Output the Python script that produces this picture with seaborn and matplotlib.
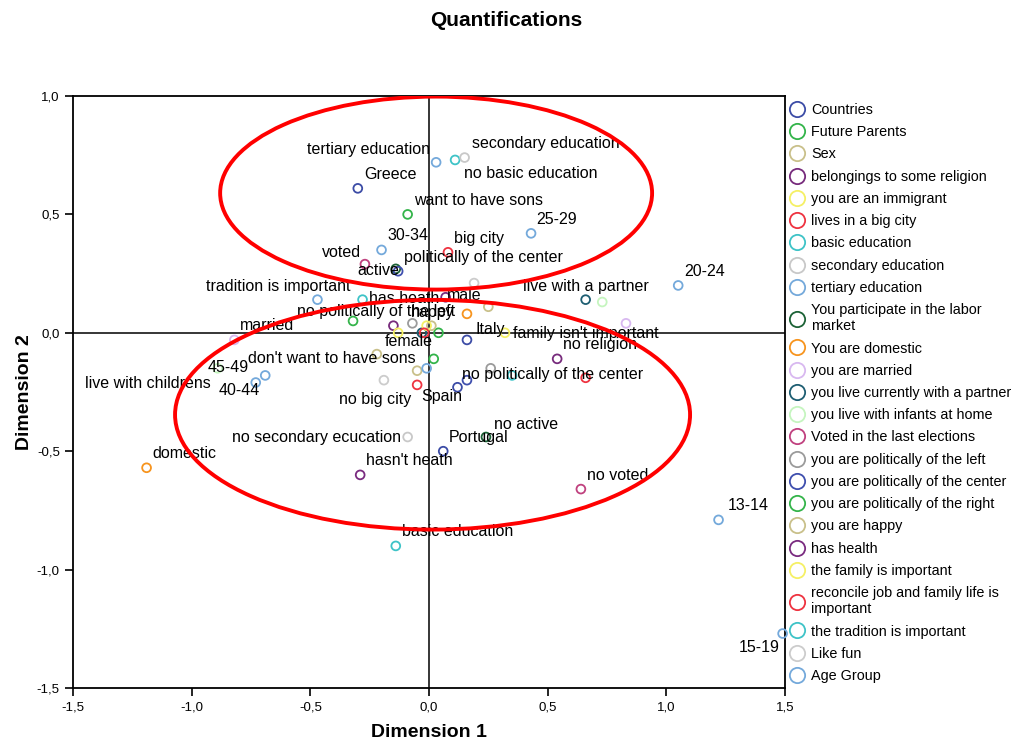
import matplotlib
matplotlib.use('Agg')
import matplotlib.pyplot as plt
from matplotlib.lines import Line2D
from matplotlib.patches import Ellipse
from matplotlib.ticker import FuncFormatter
import pandas as pd
import seaborn as sns

# legend groups (variables) and their colours
groups = ['Countries', 'Future Parents', 'Sex', 'belongings to some religion',
          'you are an immigrant', 'lives in a big city', 'basic education',
          'secondary education', 'tertiary education',
          'You participate in the labor market', 'You are domestic',
          'you are married', 'you live currently with a partner',
          'you live with infants at home', 'Voted in the last elections',
          'you are politically of the left', 'you are politically of the center',
          'you are politically of the right', 'you are happy', 'has health',
          'the family is important',
          'reconcile job and family life is important',
          'the tradition is important', 'Like fun', 'Age Group']
group_colors = ['#3C4CA6', '#33B44A', '#C9C08A', '#772B7C', '#F5F065', '#EE3340',
                '#3EC3C7', '#C8C8C8', '#74A9DB', '#1C6236', '#F7941E', '#D8B8F0',
                '#1E5E72', '#C5F5BF', '#C0417F', '#9B9B9B', '#3F4FAE', '#34B44A',
                '#C9C08A', '#7A2B80', '#F5F065', '#EE3340', '#3EC3C7', '#CCCCCC',
                '#74A9DB']

# category quantifications (one entry per category point)
point_group = (['Countries'] * 4 + ['Future Parents'] * 2 + ['Sex'] * 2
               + ['belongings to some religion'] * 2 + ['you are an immigrant']
               + ['lives in a big city'] * 2 + ['basic education'] * 2
               + ['secondary education'] * 2 + ['tertiary education'] * 2
               + ['You participate in the labor market'] * 2 + ['You are domestic'] * 2
               + ['you are married'] * 2 + ['you live currently with a partner'] * 2
               + ['you live with infants at home'] * 2 + ['Voted in the last elections'] * 2
               + ['you are politically of the left'] * 2
               + ['you are politically of the center'] * 2
               + ['you are politically of the right'] * 2 + ['you are happy'] * 2
               + ['has health'] * 2 + ['the family is important'] * 2
               + ['reconcile job and family life is important'] * 2
               + ['the tradition is important'] * 2 + ['Like fun'] * 2
               + ['Age Group'] * 8)
dim1 = [-0.30, 0.16, 0.12, 0.06,
        -0.09, 0.02,
        0.25, -0.05,
        -0.15, 0.54,
        -0.13,
        0.08, -0.05,
        0.11, -0.14,
        0.15, -0.09,
        0.03, -0.01,
        -0.14, 0.24,
        -1.19, 0.16,
        -0.82, 0.83,
        0.66, -0.03,
        0.73, -0.89,
        -0.27, 0.64,
        -0.07, 0.26,
        -0.13, 0.16,
        -0.32, 0.04,
        0.01, -0.22,
        0.07, -0.29,
        -0.01, 0.32,
        -0.02, 0.66,
        -0.28, 0.35,
        0.19, -0.19,
        1.22, 1.49, 1.05, 0.43, -0.20, -0.47, -0.73, -0.69]
dim2 = [0.61, -0.03, -0.23, -0.50,
        0.50, -0.11,
        0.11, -0.16,
        0.03, -0.11,
        0.00,
        0.34, -0.22,
        0.73, -0.90,
        0.74, -0.44,
        0.72, -0.15,
        0.27, -0.44,
        -0.57, 0.08,
        -0.03, 0.04,
        0.14, 0.00,
        0.13, -0.15,
        0.29, -0.66,
        0.04, -0.15,
        0.26, -0.20,
        0.05, 0.00,
        0.03, -0.09,
        0.15, -0.60,
        0.03, 0.00,
        0.00, -0.19,
        0.14, -0.18,
        0.21, -0.20,
        -0.79, -1.27, 0.20, 0.42, 0.35, 0.14, -0.21, -0.18]
point_label = ['Greece', 'Italy', 'Spain', 'Portugal',
               'want to have sons', "don't want to have sons",
               'male', 'female',
               '', 'no religion',
               '',
               'big city', 'no big city',
               'no basic education', 'basic education',
               'secondary education', 'no secondary ecucation',
               'tertiary education', '',
               'active', 'no active',
               'domestic', '',
               'married', '',
               'live with a partner', '',
               '', 'live with childrens',
               'voted', 'no voted',
               'no politically of the left', '',
               'politically of the center', 'no politically of the center',
               '', '',
               'happy', '',
               'has heath', "hasn't heath",
               '', "family isn't important",
               '', '',
               'tradition is important', '',
               '', '',
               '13-14', '15-19', '20-24', '25-29', '30-34', '', '40-44', '45-49']

# label placement (pixels from the point, alignment); default is up-right
label_offsets = {
    'tertiary education': (-6, 13, 'right'), 'secondary education': (7, 14, 'left'),
    'no basic education': (9, -14, 'left'), '25-29': (5, 14, 'left'),
    'voted': (-4, 12, 'right'), 'active': (3, -2, 'right'),
    'tradition is important': (-12, 13, 'right'), 'live with a partner': (-63, 13, 'left'),
    'has heath': (-6, -1, 'right'), 'male': (-41, 11, 'left'),
    'no politically of the left': (43, 12, 'right'), 'happy': (-20, 13, 'left'),
    'Italy': (9, 10, 'left'), "family isn't important": (8, -1, 'left'),
    'female': (-32, 29, 'left'), "don't want to have sons": (-18, 0, 'right'),
    '45-49': (-16, 8, 'right'), '40-44': (4, -8, 'right'),
    'no politically of the center': (-5, 6, 'left'),
    'live with childrens': (-7, -15, 'right'), 'no big city': (-6, -15, 'right'),
    'Spain': (5, -9, 'right'), 'no active': (8, 12, 'left'),
    'no secondary ecucation': (-7, -1, 'right'),
    '13-14': (9, 14, 'left'), '15-19': (-3, -14, 'right'),
}
legend_wrap = {'You participate in the labor market': 'You participate in the labor\nmarket',
               'reconcile job and family life is important':
                   'reconcile job and family life is\nimportant'}

sns.set_style('white')
plt.rcParams['font.family'] = ['Liberation Sans', 'DejaVu Sans']
plt.rcParams['text.color'] = 'black'
plt.rcParams['axes.labelcolor'] = 'black'
plt.rcParams['xtick.color'] = 'black'
plt.rcParams['ytick.color'] = 'black'

df = pd.DataFrame({'dim1': dim1, 'dim2': dim2, 'group': point_group, 'label': point_label})
palette = dict(zip(groups, group_colors))

fig = plt.figure(figsize=(10.13, 7.42), dpi=100)
ax = fig.add_axes([73 / 1013, 54 / 742, 712 / 1013, 592 / 742])

ax.axhline(0, color='black', lw=1.1, zorder=1)
ax.axvline(0, color='black', lw=1.1, zorder=1)

sns.scatterplot(data=df, x='dim1', y='dim2', hue='group', hue_order=groups,
                palette=palette, s=40, legend=False, ax=ax, zorder=3, clip_on=False)
pts = ax.collections[0]
cols = pts.get_facecolors().copy()
pts.set_edgecolors(cols)
pts.set_facecolors('none')
pts.set_linewidths(1.3)

for x, y, lab in zip(dim1, dim2, point_label):
    if not lab:
        continue
    dx, dy, ha = label_offsets.get(lab, (6, 14, 'left'))
    ax.annotate(lab, (x, y), xytext=(dx, dy), textcoords='offset pixels',
                ha=ha, va='center', fontsize=11.5, color='black', zorder=4,
                annotation_clip=False)

# hand drawn ellipses of the original
for (cx, cy), w, h in [((0.03, 0.59), 1.82, 0.815), ((0.015, -0.346), 2.17, 0.97)]:
    ax.add_patch(Ellipse((cx, cy), w, h, fill=False, ec='red', lw=2.8, zorder=5))

ax.set_xlim(-1.5, 1.5)
ax.set_ylim(-1.5, 1.0)
ax.set_xticks([-1.5, -1.0, -0.5, 0.0, 0.5, 1.0, 1.5])
ax.set_yticks([-1.5, -1.0, -0.5, 0.0, 0.5, 1.0])
comma = FuncFormatter(lambda v, p: f'{v:.1f}'.replace('.', ','))
ax.xaxis.set_major_formatter(comma)
ax.yaxis.set_major_formatter(comma)
ax.tick_params(direction='out', length=6, width=1.2, labelsize=9.5, color='black',
               bottom=True, left=True)
for sp in ax.spines.values():
    sp.set_color('black')
    sp.set_linewidth(1.3)

ax.set_xlabel('Dimension 1', fontsize=14, fontweight='bold', labelpad=8)
ax.set_ylabel('Dimension 2', fontsize=14, fontweight='bold', labelpad=3)
fig.text(0.5, 1 - 20 / 742, 'Quantifications', ha='center', va='center',
         fontsize=15, fontweight='bold')

handles = [Line2D([], [], ls='none', marker='o', ms=11, mfc='none', mec=c, mew=1.3)
           for c in group_colors]
fig.legend(handles, [legend_wrap.get(g, g) for g in groups], loc='upper left',
           bbox_to_anchor=(788 / 1013, 1 - 103 / 742), frameon=False, fontsize=10.4,
           borderpad=0, borderaxespad=0, handlelength=1.2, handletextpad=0.4,
           labelspacing=0.57)

plt.savefig('out.png', dpi=100)
